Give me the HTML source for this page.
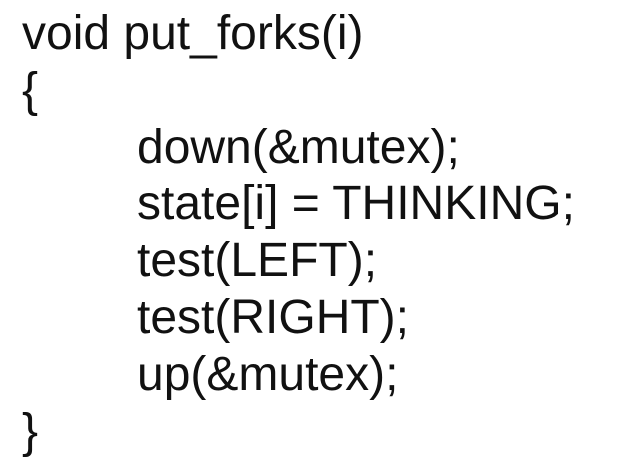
<!DOCTYPE html>
<html><head><meta charset="utf-8"><style>
html,body{margin:0;padding:0;background:#fff;width:618px;height:470px;overflow:hidden}
.c{position:absolute;left:22px;top:6px;font-family:"Liberation Sans",Arial,sans-serif;font-size:48px;line-height:56.8px;color:#111;white-space:pre}
.i{padding-left:115px}
</style></head><body>
<div class="c">void put_forks(i)
{
<span class="i">down(&amp;mutex);</span>
<span class="i">state[i] = THINKING;</span>
<span class="i">test(LEFT);</span>
<span class="i">test(RIGHT);</span>
<span class="i">up(&amp;mutex);</span>
}</div>
</body></html>
